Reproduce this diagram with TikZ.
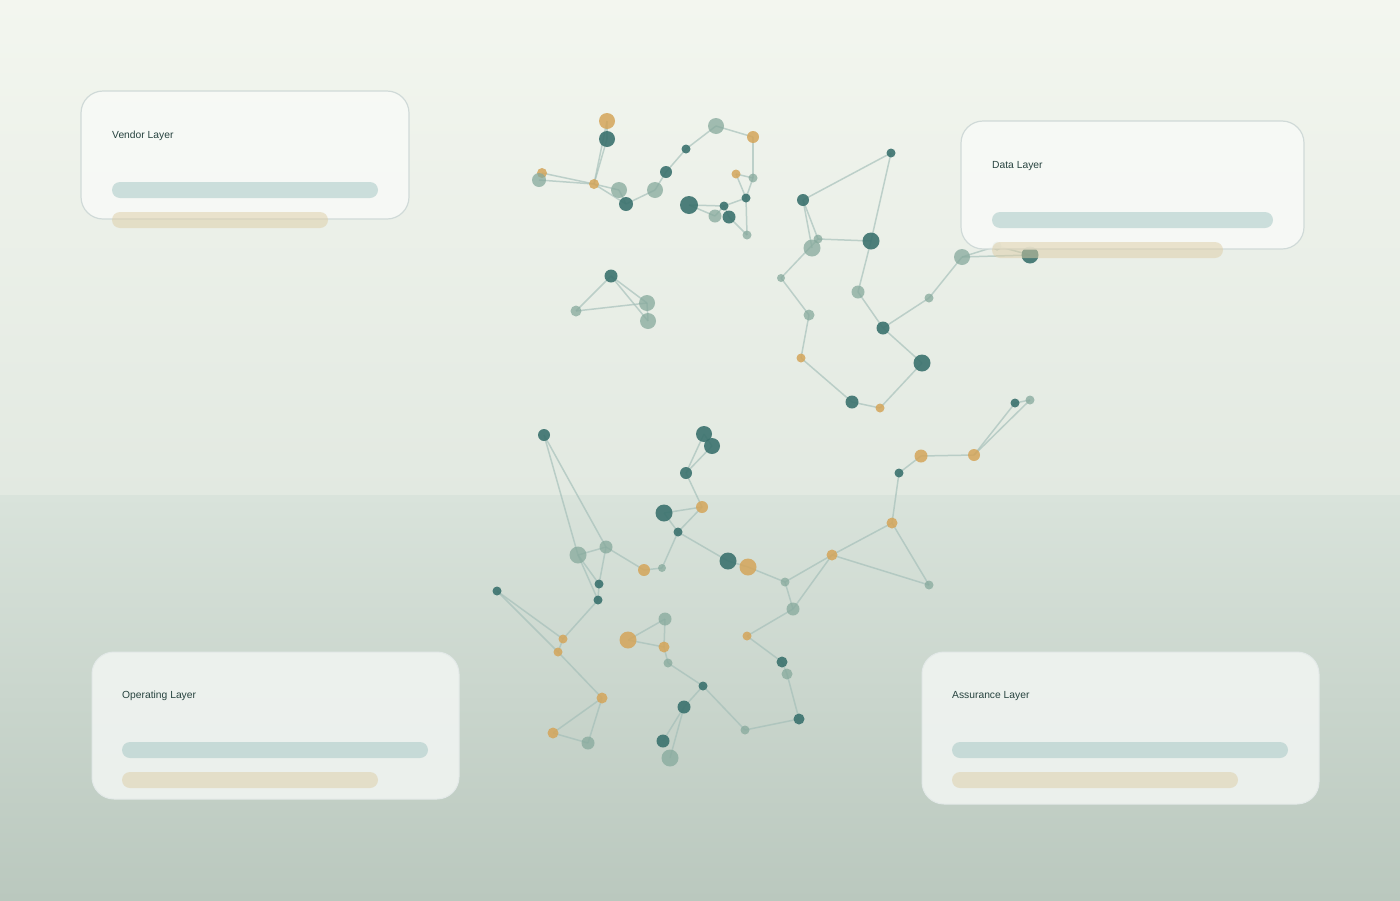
\documentclass[tikz,border=0pt]{standalone}
\usepackage{fontspec}
\setmainfont{Liberation Sans}
\pgfdeclarelayer{bglayer}
\pgfdeclarelayer{edgelayer}
\pgfsetlayers{bglayer,edgelayer,main}
\definecolor{bgA}{HTML}{F3F6EF}
\definecolor{bgB}{HTML}{E2E9E1}
\definecolor{bgC}{HTML}{D9E3DB}
\definecolor{bgD}{HTML}{BAC8BE}
\definecolor{dkcol}{HTML}{3B726E}
\definecolor{sgcol}{HTML}{86A99C}
\definecolor{gdcol}{HTML}{D4A55A}
\definecolor{edcol}{HTML}{A3BEB8}
\definecolor{cardU}{HTML}{F8FAF7}
\definecolor{cardL}{HTML}{F0F4F1}
\definecolor{cardLine}{HTML}{D0DAD8}
\definecolor{barT}{HTML}{A9C9C6}
\definecolor{barG}{HTML}{DDCDA5}
\definecolor{txtcol}{HTML}{27433F}
\tikzset{
  nodebase/.style={circle, inner sep=0pt, draw=none},
  dk/.style={nodebase, fill=dkcol, fill opacity=0.9, minimum size=#1pt},
  sg/.style={nodebase, fill=sgcol, fill opacity=0.75, minimum size=#1pt},
  gd/.style={nodebase, fill=gdcol, fill opacity=0.85, minimum size=#1pt},
  edge/.style={draw=edcol, line width=1.5pt, draw opacity=0.65},
  cardup/.style={draw=cardLine, line width=1.2pt, fill=cardU, fill opacity=0.88, rounded corners=22pt},
  cardlo/.style={draw=cardLine!60!white, line width=1pt, fill=cardL, fill opacity=0.9, rounded corners=22pt},
  bart/.style={fill=barT, fill opacity=0.55, rounded corners=8pt},
  barg/.style={fill=barG, fill opacity=0.5, rounded corners=8pt},
  lbl/.style={anchor=base west, inner sep=0pt, text=txtcol, font=\fontsize{10.3}{12}\selectfont}
}
\begin{document}
\begin{tikzpicture}[x=1pt,y=-1pt]
\useasboundingbox (0,0) rectangle (1400,900);
% background
\begin{pgfonlayer}{bglayer}
\shade[top color=bgA, bottom color=bgB] (0,0) rectangle (1400,495);
\shade[top color=bgC, bottom color=bgD] (0,495) rectangle (1400,900);
\end{pgfonlayer}

% ---------- nodes: cluster A ----------
\node[gd=16] (a1) at (607,121) {};
\node[dk=16] (a2) at (607,139) {};
\node[gd=10] (a3) at (542,173) {};
\node[sg=14] (a4) at (539,180) {};
\node[gd=10] (a5) at (594,184) {};
\node[sg=16] (a6) at (619,190) {};
\node[dk=14] (a7) at (626,204) {};
\node[sg=16] (a8) at (655,190) {};
\node[dk=12] (a9) at (666,172) {};
\node[dk=9] (a10) at (686,149) {};
\node[sg=16] (a11) at (716,126) {};
\node[gd=12] (a12) at (753,137) {};
\node[gd=9] (a13) at (736,174) {};
\node[sg=9] (a14) at (753,178) {};
\node[dk=9] (a15) at (746,198) {};
\node[dk=18] (a16) at (689,205) {};
\node[dk=9] (a17) at (724,206) {};
\node[sg=13] (a18) at (715,216) {};
\node[dk=13] (a19) at (729,217) {};
\node[sg=9] (a20) at (747,235) {};
% cluster C
\node[dk=13] (c1) at (611,276) {};
\node[sg=11] (c2) at (576,311) {};
\node[sg=16] (c3) at (647,303) {};
\node[sg=16] (c4) at (648,321) {};
% cluster B
\node[dk=9] (b1) at (891,153) {};
\node[dk=12] (b2) at (803,200) {};
\node[sg=9] (b3) at (818,239) {};
\node[sg=17] (b4) at (812,248) {};
\node[dk=17] (b5) at (871,241) {};
\node[sg=8] (b6) at (781,278) {};
\node[sg=13] (b7) at (858,292) {};
\node[sg=11] (b8) at (809,315) {};
\node[dk=13] (b9) at (883,328) {};
\node[gd=9] (b10) at (801,358) {};
\node[dk=17] (b11) at (922,363) {};
\node[dk=13] (b12) at (852,402) {};
\node[gd=9] (b13) at (880,408) {};
\node[sg=9] (b14) at (929,298) {};
\node[sg=16] (b15) at (962,257) {};
\node[sg=9] (b16) at (997,246) {};
\node[dk=17] (b17) at (1030,255) {};
% cluster D
\node[dk=9] (d1) at (1015,403) {};
\node[sg=9] (d2) at (1030,400) {};
\node[gd=12] (d3) at (974,455) {};
\node[gd=13] (d4) at (921,456) {};
\node[dk=9] (d5) at (899,473) {};
\node[gd=11] (d6) at (892,523) {};
\node[gd=11] (d7) at (832,555) {};
\node[sg=9] (d8) at (929,585) {};
\node[sg=9] (d9) at (785,582) {};
\node[sg=13] (d10) at (793,609) {};
\node[gd=9] (d11) at (747,636) {};
\node[dk=11] (d12) at (782,662) {};
\node[sg=11] (d13) at (787,674) {};
\node[dk=11] (d14) at (799,719) {};
\node[sg=9] (d15) at (745,730) {};
\node[dk=17] (d16) at (728,561) {};
\node[gd=17] (d17) at (748,567) {};
% cluster E
\node[dk=12] (e1) at (544,435) {};
\node[dk=16] (e2) at (704,434) {};
\node[dk=16] (e3) at (712,446) {};
\node[dk=12] (e4) at (686,473) {};
\node[gd=12] (e5) at (702,507) {};
\node[dk=17] (e6) at (664,513) {};
\node[dk=9] (e7) at (678,532) {};
\node[sg=17] (e8) at (578,555) {};
\node[sg=13] (e9) at (606,547) {};
\node[gd=12] (e10) at (644,570) {};
\node[sg=8] (e11) at (662,568) {};
\node[dk=9] (e12) at (599,584) {};
\node[dk=9] (e13) at (598,600) {};
\node[dk=9] (e14) at (497,591) {};
\node[gd=9] (e15) at (563,639) {};
\node[gd=9] (e16) at (558,652) {};
\node[gd=11] (e17) at (602,698) {};
\node[gd=11] (e18) at (553,733) {};
\node[sg=13] (e19) at (588,743) {};
\node[sg=13] (e20) at (665,619) {};
\node[gd=17] (e21) at (628,640) {};
\node[gd=11] (e22) at (664,647) {};
\node[sg=9] (e23) at (668,663) {};
\node[dk=9] (e24) at (703,686) {};
\node[dk=13] (e25) at (684,707) {};
\node[dk=13] (e26) at (663,741) {};
\node[sg=17] (e27) at (670,758) {};

% ---------- edges ----------
\begin{pgfonlayer}{edgelayer}
\foreach \u/\v in {a1/a5,a2/a5,a1/a2,a3/a5,a4/a5,a5/a6,a5/a7,a6/a7,a7/a8,a8/a9,a9/a10,a10/a11,a11/a12,a12/a14,a13/a14,a13/a15,a14/a15,a15/a17,a16/a17,a16/a18,a17/a18,a17/a19,a15/a20,a19/a20,
 c1/c2,c1/c3,c1/c4,c2/c3,c3/c4,
 b1/b2,b1/b5,b2/b3,b2/b4,b3/b5,b3/b6,b6/b8,b8/b10,b10/b12,b12/b13,b13/b11,b11/b9,b9/b7,b7/b5,b9/b14,b14/b15,b15/b16,b15/b17,b16/b17,
 d1/d2,d1/d3,d2/d3,d3/d4,d4/d5,d5/d6,d6/d7,d6/d8,d7/d8,d7/d9,d7/d10,d17/d9,d9/d10,d10/d11,d11/d12,d12/d13,d13/d14,d14/d15,d16/d17,
 e1/e8,e1/e9,e8/e9,e8/e12,e8/e13,e9/e12,e12/e13,e9/e10,e10/e11,e11/e7,e7/e6,e6/e5,e7/e5,e5/e4,e4/e2,e4/e3,e2/e3,e7/d16,
 e13/e15,e14/e15,e14/e16,e15/e16,e16/e17,e17/e18,e17/e19,e18/e19,e21/e20,e21/e22,e20/e22,e22/e23,e23/e24,e24/e25,e24/d15,e25/e26,e25/e27}
  \draw[edge] (\u.center) -- (\v.center);
\end{pgfonlayer}

% ---------- cards ----------
\draw[cardup] (81,91) rectangle (409,219);
\node[lbl] (t1) at (112,138) {Vendor Layer};
\fill[bart] (112,182) rectangle (378,198);
\fill[barg] (112,212) rectangle (328,228);

\draw[cardup] (961,121) rectangle (1304,249);
\node[lbl] (t2) at (992,168) {Data Layer};
\fill[bart] (992,212) rectangle (1273,228);
\fill[barg] (992,242) rectangle (1223,258);

\draw[cardlo] (92,652) rectangle (459,799);
\node[lbl] (t3) at (122,698) {Operating Layer};
\fill[bart] (122,742) rectangle (428,758);
\fill[barg] (122,772) rectangle (378,788);

\draw[cardlo] (922,652) rectangle (1319,804);
\node[lbl] (t4) at (952,698) {Assurance Layer};
\fill[bart] (952,742) rectangle (1288,758);
\fill[barg] (952,772) rectangle (1238,788);
\end{tikzpicture}
\end{document}
